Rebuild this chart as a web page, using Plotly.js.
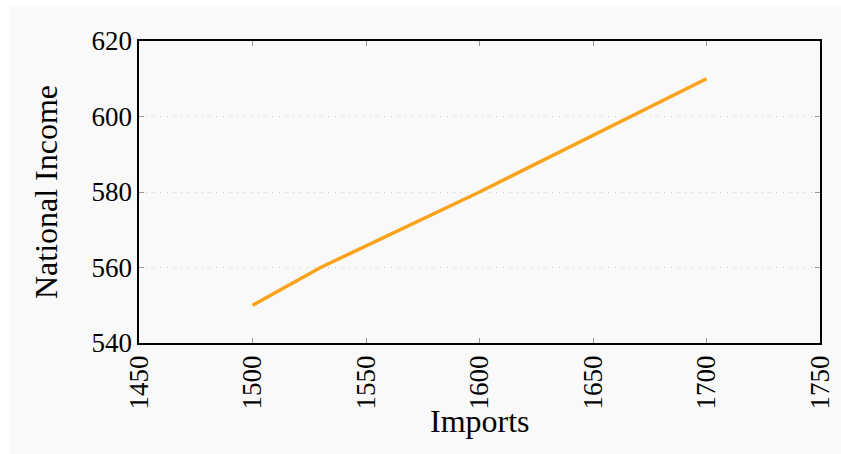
<!DOCTYPE html>
<html>
<head>
<meta charset="utf-8">
<script src="https://cdn.plot.ly/plotly-3.0.1.min.js"></script>
<style>
html,body{margin:0;padding:0;background:#ffffff;}
#chart{position:absolute;left:10px;top:6px;width:831px;height:448px;}
</style>
</head>
<body>
<div id="chart"></div>
<script>
const imports = [1500, 1530, 1600, 1640, 1700];
const nationalIncome = [550, 560, 580, 592, 610];
const xTicks = [1450, 1500, 1550, 1600, 1650, 1700, 1750];
const yTicks = [540, 560, 580, 600, 620];
const xTitle = 'Imports';
const yTitle = 'National Income';

const serif = '"Liberation Serif", "Times New Roman", serif';

const trace = {
  x: imports,
  y: nationalIncome,
  type: 'scatter',
  mode: 'lines',
  line: {color: '#f9a21a', width: 3.5},
  hoverinfo: 'skip'
};

const layout = {
  width: 831,
  height: 448,
  paper_bgcolor: '#f9f9f9',
  plot_bgcolor: '#f9f9f9',
  margin: {l: 129, r: 21, t: 35, b: 111},
  showlegend: false,
  font: {family: serif, color: '#000'},
  xaxis: {
    range: [1450, 1750],
    tickvals: xTicks,
    ticktext: xTicks.map(String),
    tickangle: -90,
    ticks: 'inside',
    ticklen: 5,
    tickcolor: '#999',
    tickwidth: 1,
    mirror: 'ticks',
    showline: true,
    linecolor: '#000',
    linewidth: 1.6,
    showgrid: false,
    zeroline: false,
    tickfont: {family: serif, size: 27, color: '#000'}
  },
  yaxis: {
    range: [540, 620],
    tickvals: yTicks,
    ticktext: yTicks.map(String),
    ticks: 'inside',
    ticklen: 5,
    tickcolor: '#999',
    tickwidth: 1,
    mirror: 'ticks',
    showline: true,
    linecolor: '#000',
    linewidth: 1.6,
    showgrid: true,
    gridcolor: '#c8c8c8',
    griddash: '1px,6px',
    gridwidth: 1,
    zeroline: false,
    tickfont: {family: serif, size: 27, color: '#000'},
    title: {text: yTitle, font: {family: serif, size: 32, color: '#000'}, standoff: 24}
  },
  annotations: [{
    text: xTitle,
    xref: 'paper', yref: 'paper',
    x: 0.5, y: -0.258,
    xanchor: 'center', yanchor: 'middle',
    showarrow: false,
    font: {family: serif, size: 32, color: '#000'}
  }]
};

Plotly.newPlot('chart', [trace], layout, {displayModeBar: false, staticPlot: true});
</script>
</body>
</html>
